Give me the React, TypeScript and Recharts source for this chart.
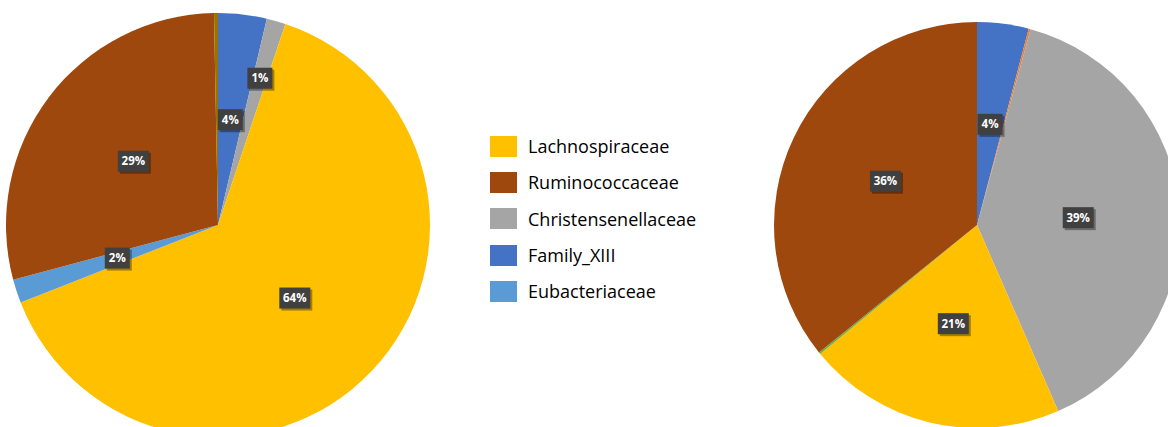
import { Cell, Pie, PieChart } from "recharts";

// Left pie, clockwise from 12 o'clock
const leftNames = [
  "Family_XIII",
  "Christensenellaceae",
  "Lachnospiraceae",
  "Eubacteriaceae",
  "Ruminococcaceae",
  "Other",
];
const leftValues = [3.7, 1.45, 63.9, 1.8, 28.85, 0.3];

// Right pie, clockwise from 12 o'clock
const rightNames = [
  "Family_XIII",
  "Other A",
  "Christensenellaceae",
  "Lachnospiraceae",
  "Other B",
  "Ruminococcaceae",
];
const rightValues = [4.1, 0.15, 39.2, 20.6, 0.15, 35.8];

const legendNames = [
  "Lachnospiraceae",
  "Ruminococcaceae",
  "Christensenellaceae",
  "Family_XIII",
  "Eubacteriaceae",
];

const colors: Record<string, string> = {
  Lachnospiraceae: "#FFC000",
  Ruminococcaceae: "#9E480E",
  Christensenellaceae: "#A5A5A5",
  Family_XIII: "#4472C4",
  Eubacteriaceae: "#5B9BD5",
  Other: "#997300",
  "Other A": "#ED7D31",
  "Other B": "#70AD47",
};

const leftData = leftNames.map((name, i) => ({ name, value: leftValues[i] }));
const rightData = rightNames.map((name, i) => ({ name, value: rightValues[i] }));

const RADIAN = Math.PI / 180;

const renderLabel = (props: any) => {
  const { cx, cy, midAngle, outerRadius, percent, name } = props;
  if (!legendNames.includes(name)) return null;
  const r = percent < 0.015 ? outerRadius * 0.72 : outerRadius * 0.5;
  const x = cx + r * Math.cos(-midAngle * RADIAN);
  const y = cy + r * Math.sin(-midAngle * RADIAN);
  const text = `${Math.round(percent * 100)}%`;
  const w = text.length > 2 ? 31 : 25;
  const h = 21;
  return (
    <g>
      <rect x={x - w / 2 + 2} y={y - h / 2 + 2} width={w} height={h} fill="rgba(0,0,0,0.35)" />
      <rect x={x - w / 2} y={y - h / 2} width={w} height={h} fill="#404040" />
      <text
        x={x}
        y={y}
        dy={4}
        textAnchor="middle"
        fill="#ffffff"
        fontSize={11.5}
        fontWeight="bold"
        fontFamily="'Open Sans', sans-serif"
      >
        {text}
      </text>
    </g>
  );
};

export default function App() {
  return (
    <div
      style={{
        position: "absolute",
        left: 0,
        top: 0,
        width: 1168,
        height: 427,
        overflow: "hidden",
        background: "#ffffff",
      }}
    >
      <PieChart width={1168} height={460} margin={{ top: 0, right: 0, bottom: 0, left: 0 }}>
        <Pie
          data={leftData}
          dataKey="value"
          nameKey="name"
          cx={218}
          cy={225}
          outerRadius={212}
          startAngle={90}
          endAngle={-270}
          stroke="none"
          labelLine={false}
          label={renderLabel}
          isAnimationActive={false}
        >
          {leftData.map((d) => (
            <Cell key={d.name} fill={colors[d.name]} />
          ))}
        </Pie>
        <Pie
          data={rightData}
          dataKey="value"
          nameKey="name"
          cx={977}
          cy={225}
          outerRadius={203}
          startAngle={90}
          endAngle={-270}
          stroke="none"
          labelLine={false}
          label={renderLabel}
          isAnimationActive={false}
        >
          {rightData.map((d) => (
            <Cell key={d.name} fill={colors[d.name]} />
          ))}
        </Pie>
      </PieChart>
      <div style={{ position: "absolute", left: 490, top: 128 }}>
        {legendNames.map((name) => (
          <div
            key={name}
            style={{ display: "flex", alignItems: "center", height: 36.3 }}
          >
            <div
              style={{ width: 27, height: 21, background: colors[name], marginRight: 11 }}
            />
            <span
              style={{
                fontFamily: "'Open Sans', sans-serif",
                fontSize: 18,
                color: "#000000",
              }}
            >
              {name}
            </span>
          </div>
        ))}
      </div>
    </div>
  );
}
